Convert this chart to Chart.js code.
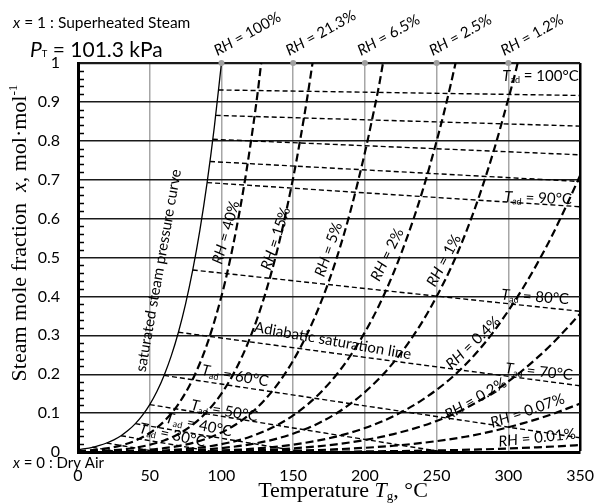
<!DOCTYPE html>
<html>
<head>
<meta charset="utf-8">
<script src="https://cdn.jsdelivr.net/npm/chart.js@4/dist/chart.umd.min.js"></script>
<style>
  html, body { margin: 0; padding: 0; background: #fff; }
  canvas { display: block; }
</style>
</head>
<body>
<canvas id="chart" width="608" height="503" style="width:608px;height:503px"></canvas>
<script>
// Axis tick labels
const xTickLabels = ['0', '50', '100', '150', '200', '250', '300', '350'];
const yTickLabels = ['0', '0.1', '0.2', '0.3', '0.4', '0.5', '0.6', '0.7', '0.8', '0.9', '1'];

// Temperatures whose grid line meets x = 1, with the relative humidity at that point
const topMarkT = [100, 150, 200, 250, 300];
const topMarkRH = ['100%', '21.3%', '6.5%', '2.5%', '1.2%'];

// Saturated steam pressure curve [T, x]
const SAT = [[0,0.0060],[5,0.0086],[10,0.0121],[15,0.0168],[20,0.0231],[25,0.0313],[30,0.0419],
  [35,0.0556],[40,0.0729],[45,0.0947],[50,0.1219],[55,0.1555],[60,0.1969],[65,0.2470],[70,0.3079],
  [75,0.3808],[80,0.4679],[85,0.5711],[90,0.6926],[95,0.8344],[100,1.0]];

// Constant relative humidity curves [T, x]
const RH_40 = [[0,0.0024],[10,0.0048],[20,0.0092],[30,0.0168],[40,0.0292],[50,0.0488],[60,0.0788],
  [70,0.1232],[80,0.1872],[90,0.2771],[100,0.4003],[105,0.4769],[110,0.5661],[115,0.6676],
  [120,0.7844],[125,0.9167],[127.7,1.0]];
const RH_15 = [[0,0.0009],[20,0.0035],[40,0.0109],[60,0.0295],[70,0.0462],[80,0.0702],[90,0.1039],
  [100,0.1501],[110,0.2123],[120,0.2942],[130,0.4002],[140,0.5352],[150,0.7050],[155,0.8048],
  [160,0.9152],[163.5,1.0]];
const RH_5 = [[0,0.0003],[20,0.0012],[40,0.0036],[60,0.0098],[80,0.0234],[100,0.0500],[110,0.0708],
  [120,0.0981],[130,0.1334],[140,0.1784],[150,0.2350],[160,0.3051],[170,0.3909],[180,0.4949],
  [190,0.6203],[200,0.7698],[205,0.8547],[210,0.9450],[212.6,1.0]];
const RH_2 = [[0,0.0001],[40,0.0015],[60,0.0039],[80,0.0094],[100,0.0200],[120,0.0392],[140,0.0714],
  [150,0.0940],[160,0.1220],[170,0.1564],[180,0.1980],[190,0.2481],[200,0.3079],[210,0.3780],
  [220,0.4609],[230,0.5576],[240,0.6692],[250,0.7994],[255,0.8705],[260,0.9475],[263.2,1.0]];
const RH_1 = [[0,0.0001],[60,0.0020],[80,0.0047],[100,0.0100],[120,0.0196],[140,0.0357],[160,0.0610],
  [170,0.0782],[180,0.0990],[190,0.1241],[200,0.1540],[210,0.1890],[220,0.2304],[230,0.2788],
  [240,0.3346],[250,0.3997],[260,0.4737],[270,0.5606],[280,0.6612],[290,0.7767],[300,0.9080],
  [305,0.9769],[306.5,1.0]];
const RH_04 = [[0,0.0000],[100,0.0040],[120,0.0078],[150,0.0188],[180,0.0396],[200,0.0616],
  [210,0.0756],[220,0.0922],[230,0.1115],[240,0.1338],[250,0.1599],[260,0.1895],[270,0.2242],
  [280,0.2645],[290,0.3107],[300,0.3632],[310,0.4204],[320,0.4836],[330,0.5527],[340,0.6297],
  [350,0.7106]];
const RH_02 = [[0,0.0000],[100,0.0020],[150,0.0094],[180,0.0198],[200,0.0308],[220,0.0461],
  [240,0.0669],[250,0.0799],[260,0.0947],[270,0.1121],[280,0.1323],[290,0.1553],[300,0.1816],
  [310,0.2102],[320,0.2418],[330,0.2763],[340,0.3148],[350,0.3553]];
const RH_007 = [[0,0.0000],[150,0.0033],[200,0.0108],[220,0.0161],[240,0.0234],[250,0.0280],
  [260,0.0332],[270,0.0392],[280,0.0463],[290,0.0544],[300,0.0636],[310,0.0736],[320,0.0846],
  [330,0.0967],[340,0.1102],[350,0.1244]];
const RH_001 = [[0,0.0000],[150,0.0005],[200,0.0015],[250,0.0040],[280,0.0066],[300,0.0091],
  [320,0.0121],[340,0.0157],[350,0.0178]];

// Adiabatic saturation lines [T, x], starting on the saturation curve at T_ad
const TAD_10 = [[10,0.0121],[28.8,0]];
const TAD_20 = [[20,0.0231],[38,0.0115],[55.9,0]];
const TAD_30 = [[30,0.0419],[60,0.0227],[95.7,0]];
const TAD_40 = [[40,0.0729],[100,0.0353],[157,0]];
const TAD_50 = [[50,0.1219],[150,0.0618],[254.7,0]];
const TAD_60 = [[60,0.1969],[200,0.1186],[350,0.0365]];
const TAD_70 = [[70,0.3079],[200,0.2433],[350,0.1702]];
const TAD_80 = [[80,0.4679],[215,0.4144],[350,0.3617]];
const TAD_90 = [[90,0.6926],[220,0.6614],[350,0.6305]];
const TAD_92 = [[92,0.7468],[220,0.7212],[350,0.6954]];
const TAD_94 = [[94,0.8039],[350,0.7640]];
const TAD_96 = [[96,0.8653],[350,0.8378]];
const TAD_98 = [[98,0.9307],[350,0.9165]];

const RH_CURVES = [RH_40, RH_15, RH_5, RH_2, RH_1, RH_04, RH_02, RH_007, RH_001];
const TAD_LINES = [TAD_10, TAD_20, TAD_30, TAD_40, TAD_50, TAD_60, TAD_70, TAD_80,
  TAD_90, TAD_92, TAD_94, TAD_96, TAD_98];

// ---- text helpers ----
const SANS = 'Lato, "Open Sans", sans-serif';
const SERIF = '"Liberation Serif", "DejaVu Serif", serif';
const rh = v => [{ t: 'RH', it: true }, { t: ' = ' + v }];
const tad = v => [{ t: 'T', it: true }, { t: 'ad', sub: true, sc: 0.6, dy: 0.15 }, { t: ' = ' + v + '°C' }];

// Labels placed in data coordinates (T, x), rotation in degrees
const curveLabels = [
  { s: rh('40%'),  T: 102.8, x: 0.565, a: -74 },
  { s: rh('15%'),  T: 137.5, x: 0.549, a: -72 },
  { s: rh('5%'),   T: 174.3, x: 0.521, a: -71 },
  { s: rh('2%'),   T: 215.2, x: 0.508, a: -64 },
  { s: rh('1%'),   T: 254.7, x: 0.493, a: -62 },
  { s: rh('0.4%'), T: 275.1, x: 0.282, a: -44 },
  { s: rh('0.2%'), T: 277.1, x: 0.138, a: -30 },
  { s: rh('0.07%'),T: 313.2, x: 0.107, a: -19 },
  { s: rh('0.01%'),T: 320.0, x: 0.038, a: -6 },
  { s: tad('100'), T: 349.0, x: 0.955, a: 0, align: 'right', base: true },
  { s: tad('90'),  T: 320.7, x: 0.654, a: 2 },
  { s: tad('80'),  T: 318.7, x: 0.400, a: 4 },
  { s: tad('70'),  T: 321.4, x: 0.208, a: 6 },
  { s: tad('60'),  T: 109.6, x: 0.197, a: 10 },
  { s: tad('50'),  T: 102.1, x: 0.107, a: 10 },
  { s: tad('40'),  T: 84.4,  x: 0.071, a: 12 },
  { s: tad('30'),  T: 66.0,  x: 0.045, a: 12 },
  { s: [{ t: 'Adiabatic saturation line' }], T: 177.7, x: 0.287, a: 10 },
  { s: [{ t: 'saturated steam pressure curve' }], T: 55.8, x: 0.467, a: -80 }
];

function drawRich(ctx, segs, x, y, angle, size, family, align, baseline) {
  ctx.save();
  ctx.translate(x, y);
  ctx.rotate(angle * Math.PI / 180);
  const parts = segs.map(s => {
    const sc = s.sc || ((s.sub || s.sup) ? 0.65 : 1);
    const sz = size * sc;
    const font = (s.it ? 'italic ' : '') + sz + 'px ' + family;
    ctx.font = font;
    let dy = 0;
    if (s.sub) dy = size * (s.dy !== undefined ? s.dy : 0.2);
    if (s.sup) dy = -size * (s.dy !== undefined ? s.dy : 0.4);
    return { t: s.t, font, w: ctx.measureText(s.t).width, dy };
  });
  const total = parts.reduce((a, p) => a + p.w, 0);
  let cx = align === 'center' ? -total / 2 : (align === 'right' ? -total : 0);
  const by = baseline ? 0 : size * 0.36;
  ctx.textAlign = 'left';
  ctx.textBaseline = 'alphabetic';
  ctx.fillStyle = '#000';
  for (const p of parts) {
    ctx.font = p.font;
    ctx.fillText(p.t, cx, by + p.dy);
    cx += p.w;
  }
  ctx.restore();
}

const decorPlugin = {
  id: 'decor',
  afterDraw(chart) {
    const ctx = chart.ctx;
    const xs = chart.scales.x, ys = chart.scales.y;
    const area = chart.chartArea;

    // minor ticks on the mole-fraction axis, every 0.02
    ctx.save();
    ctx.strokeStyle = '#000';
    ctx.lineWidth = 1.5;
    for (let i = 1; i < 50; i++) {
      if (i % 5 === 0) continue;
      const py = Math.round(ys.getPixelForValue(i * 0.02)) + 0.5;
      ctx.beginPath();
      ctx.moveTo(area.left, py);
      ctx.lineTo(area.left + 6, py);
      ctx.stroke();
    }
    ctx.restore();

    // RH labels above the top edge
    topMarkT.forEach((t, i) => {
      drawRich(ctx, rh(topMarkRH[i]), xs.getPixelForValue(t) - 4, ys.getPixelForValue(1) - 7,
        -29, 15, SANS, 'left', true);
    });

    // labels on the curves
    curveLabels.forEach(l => {
      drawRich(ctx, l.s, xs.getPixelForValue(l.T), ys.getPixelForValue(l.x), l.a, 15, SANS,
        l.align || 'center', !!l.base);
    });

    // notes outside the plot
    drawRich(ctx, [{ t: 'x', it: true }, { t: ' = 1 : Superheated Steam' }], 13, 28, 0, 15.5, SANS, 'left', true);
    drawRich(ctx, [{ t: 'P', it: true }, { t: 'T', sub: true, sc: 0.45, dy: 0.02 }, { t: ' = 101.3 kPa' }],
      30, 57, 0, 21, SANS, 'left', true);
    drawRich(ctx, [{ t: 'x', it: true }, { t: ' = 0 : Dry Air' }], 13, 468, 0, 15, SANS, 'left', true);

    // axis titles
    drawRich(ctx, [{ t: 'Temperature ' }, { t: 'T', it: true }, { t: 'g', sub: true, sc: 0.6, dy: 0.12 }, { t: ', °C' }],
      343, 497, 0, 22, SERIF, 'center', true);
    drawRich(ctx, [{ t: 'Steam mole fraction  ' }, { t: 'x', it: true }, { t: ', mol·mol' }, { t: '-1', sup: true, sc: 0.6, dy: 0.4 }],
      26, 233, -90, 22, SERIF, 'center', true);
  }
};

// ---- datasets ----
const datasets = [];
datasets.push({
  data: topMarkT.map(t => [t, 1]),
  showLine: false, pointRadius: 3, pointBackgroundColor: '#a0a0a0', pointBorderWidth: 0,
  clip: false
});
datasets.push({
  data: SAT, showLine: true, borderColor: '#000', borderWidth: 1.3, pointRadius: 0,
  cubicInterpolationMode: 'monotone'
});
RH_CURVES.forEach(c => datasets.push({
  data: c, showLine: true, borderColor: '#000', borderWidth: 2.2, borderDash: [8, 4],
  pointRadius: 0, cubicInterpolationMode: 'monotone'
}));
TAD_LINES.forEach(c => datasets.push({
  data: c, showLine: true, borderColor: '#000', borderWidth: 1.4, borderDash: [5, 3],
  pointRadius: 0, tension: 0
}));

const near = (a, b) => Math.abs(a - b) < 1e-6;

new Chart(document.getElementById('chart'), {
  type: 'scatter',
  data: { datasets },
  options: {
    responsive: false,
    animation: false,
    devicePixelRatio: 1,
    layout: { padding: { left: 0, top: 63, right: 16, bottom: 0 } },
    plugins: { legend: { display: false }, tooltip: { enabled: false } },
    scales: {
      x: {
        type: 'linear', min: 0, max: 350,
        afterFit: s => { s.height = 51; },
        ticks: {
          stepSize: 50, padding: 14, color: '#000',
          font: { family: SANS, size: 16 },
          callback: (v, i) => xTickLabels[i]
        },
        grid: {
          drawTicks: false,
          color: c => near(c.tick.value, 350) ? '#000' : '#a6a6a6',
          lineWidth: c => near(c.tick.value, 350) ? 2.5 : 1.5
        },
        border: { display: true, color: '#000', width: 3 }
      },
      y: {
        type: 'linear', min: 0, max: 1,
        afterFit: s => { s.width = 78; },
        ticks: {
          stepSize: 0.1, padding: 18, color: '#000',
          font: { family: SANS, size: 16 },
          callback: (v, i) => yTickLabels[i]
        },
        grid: {
          drawTicks: false,
          color: '#1a1a1a',
          lineWidth: c => near(c.tick.value, 1) ? 2.2 : 1.4
        },
        border: { display: true, color: '#000', width: 3 }
      }
    }
  },
  plugins: [decorPlugin]
});
</script>
</body>
</html>
